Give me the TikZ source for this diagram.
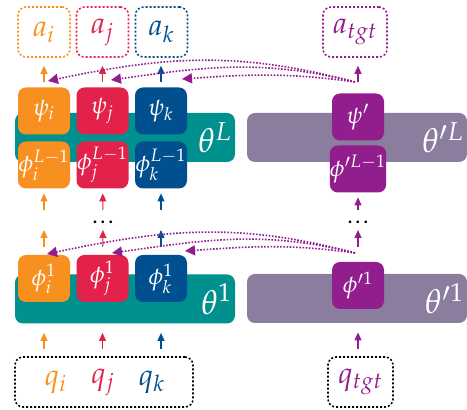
\documentclass[tikz,border=0pt]{standalone}
\usepackage{mathpazo}
\usetikzlibrary{arrows.meta,calc}

\definecolor{cori}{RGB}{247,144,30}
\definecolor{corj}{RGB}{226,34,75}
\definecolor{cork}{RGB}{0,80,143}
\definecolor{tealb}{RGB}{0,145,142}
\definecolor{grayb}{RGB}{138,125,157}
\definecolor{pur}{RGB}{146,29,141}

\begin{document}
\begin{tikzpicture}[x=0.5pt, y=-0.5pt,
    cell/.style={rounded corners=4pt, minimum width=26pt, minimum height=23.5pt, inner sep=0pt, text=white, font=\fontsize{12}{14}\selectfont},
    band/.style={rounded corners=4pt, minimum height=24.5pt, text width=107pt, inner xsep=1.5pt, align=right, text=white, font=\fontsize{17}{19}\selectfont},
    outbox/.style={draw, rounded corners=4pt, line width=0.8pt, dash pattern=on 1pt off 1pt, minimum height=25pt, inner sep=0pt, font=\fontsize{15}{17}\selectfont},
    qtxt/.style={inner sep=0pt, font=\fontsize{15}{17}\selectfont},
    upar/.style={-{Triangle[length=4pt,width=3.5pt]}, line width=0.55pt},
    skip/.style={-{Triangle[length=5pt,width=5pt]}, line width=0.8pt, dash pattern=on 0.8pt off 0.8pt, draw=pur},
    dots/.style={inner sep=0pt, font=\fontsize{9}{10}\selectfont\boldmath}
]
\useasboundingbox (0,0) rectangle (467,410);

\node[band, fill=tealb] (thL) at (125,137.5) {$\theta^L$};
\node[band, fill=tealb] (th1) at (125,299) {$\theta^1$};
\node[band, fill=grayb] (tpL) at (357,137.5) {$\theta'^L$};
\node[band, fill=grayb] (tp1) at (357,298.5) {$\theta'^1$};

\node[cell, fill=cori] (psii) at (44,111) {$\psi_i$};
\node[cell, fill=corj] (psij) at (102.5,111) {$\psi_j$};
\node[cell, fill=cork] (psik) at (161,111) {$\psi_k$};
\node[cell, fill=cori] (phiLi) at (44,165) {$\phi_i^{L-1}$};
\node[cell, fill=corj] (phiLj) at (102.5,165) {$\phi_j^{L-1}$};
\node[cell, fill=cork] (phiLk) at (161,165) {$\phi_k^{L-1}$};
\node[cell, fill=pur] (psip) at (358,117) {$\psi'$};
\node[cell, fill=pur] (phipL) at (358,169) {$\phi'^{L-1}$};

\node[cell, fill=cori] (phi1i) at (44,278.5) {$\phi_i^1$};
\node[cell, fill=corj] (phi1j) at (102.5,278.5) {$\phi_j^1$};
\node[cell, fill=cork] (phi1k) at (161,278.5) {$\phi_k^1$};
\node[cell, fill=pur] (phip1) at (358,285.5) {$\phi'^1$};

\node[outbox, draw=cori, text=cori, minimum width=26pt] (ai) at (44,32) {$a_i$};
\node[outbox, draw=corj, text=corj, minimum width=26pt] (aj) at (102.5,32) {$a_j$};
\node[outbox, draw=cork, text=cork, minimum width=26pt] (ak) at (161.5,32) {$a_k$};
\node[outbox, draw=pur, text=pur, minimum width=32pt] (atgt) at (355,32) {$a_{tgt}$};

\node[outbox, draw=black, minimum width=89pt] (qbox) at (104,382) {};
\node[qtxt, text=cori] (qi) at (56,382) {$q_i$};
\node[qtxt, text=corj] (qj) at (103,382) {$q_j$};
\node[qtxt, text=cork] (qk) at (152,382) {$q_k$};
\node[outbox, draw=black, text=pur, minimum width=32.5pt] (qtgt) at (360.5,382) {$q_{tgt}$};

\coordinate (di) at (44,222);
\node[dots] (dj) at (103,222) {$\ldots$};
\coordinate (dk) at (161,222);
\node[dots] (dp) at (358,222) {$\ldots$};

\draw[upar, cori, shorten <=2.5pt, shorten >=4pt] (psii) -- (ai);
\draw[upar, corj, shorten <=2.5pt, shorten >=4pt] (psij) -- (aj);
\draw[upar, cork, shorten <=2.5pt, shorten >=4pt] (psik) -- (psik |- ak.south);
\draw[upar, pur, shorten <=5.75pt, shorten >=4pt] (psip) -- (psip |- atgt.south);

\draw[upar, cori, shorten <=6pt, shorten >=2.25pt] (di) -- (phiLi);
\draw[upar, corj, shorten <=6pt, shorten >=2.25pt] (dj.center) -- (phiLj);
\draw[upar, cork, shorten <=6pt, shorten >=2.25pt] (dk) -- (phiLk);
\draw[upar, pur, shorten <=6pt, shorten >=2.25pt] (dp.center) -- (phipL);

\draw[upar, cori, shorten <=4pt, shorten >=4pt] (phi1i) -- (di);
\draw[upar, corj, shorten <=4pt, shorten >=4pt] (phi1j) -- (dj.center);
\draw[upar, cork, shorten <=4pt, shorten >=4pt] (phi1k) -- (dk);
\draw[upar, pur, shorten <=7.5pt, shorten >=4pt] (phip1) -- (dp.center);

\draw[upar, cori, shorten <=3.5pt, shorten >=4.5pt] (qbox.north -| phi1i) -- (th1.south -| phi1i);
\draw[upar, corj, shorten <=3.5pt, shorten >=4.5pt] (qbox.north -| phi1j) -- (th1.south -| phi1j);
\draw[upar, cork, shorten <=3.5pt, shorten >=4.5pt] (qbox.north -| phi1k) -- (th1.south -| phi1k);
\draw[upar, pur, shorten <=3.5pt, shorten >=4.5pt] (qtgt.north -| phip1) -- (tp1.south -| phip1);

\coordinate (srcL) at (355,82);
\coordinate (hi) at (48,81);
\coordinate (hj) at (111,80);
\coordinate (hk) at (182,79);
\draw[skip] (srcL) to[out=165,in=12] (hi);
\draw[skip] (srcL) to[out=166,in=8] (hj);
\draw[skip] (srcL) to[out=172,in=4] (hk);

\coordinate (src1) at (355,253);
\coordinate (gi) at (47,254);
\coordinate (gj) at (112,253);
\coordinate (gk) at (185,251);
\draw[skip] (src1) to[out=165,in=12] (gi);
\draw[skip] (src1) to[out=166,in=8] (gj);
\draw[skip] (src1) to[out=172,in=4] (gk);
\end{tikzpicture}
\end{document}
